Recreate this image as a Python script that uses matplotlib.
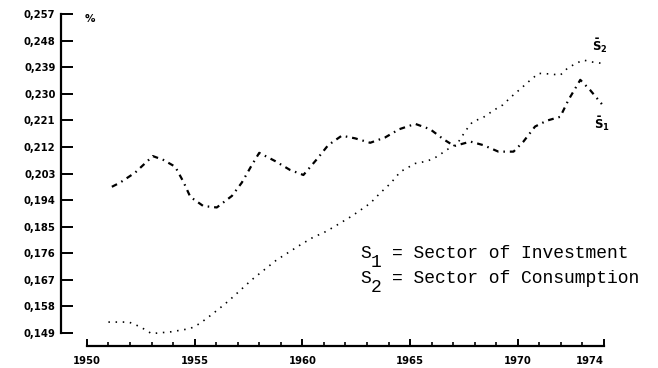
import matplotlib
matplotlib.use("Agg")
import matplotlib.pyplot as plt
from matplotlib.transforms import ScaledTranslation

# share of the two sectors, read year by year (fractional years along the curves)
s1_years = [1951.16, 1951.54, 1952.24, 1953.06, 1953.55, 1954.10, 1954.48, 1954.80,
            1955.40, 1956.03, 1956.73, 1957.19, 1957.66, 1958.00, 1958.74, 1959.43,
            1960.05, 1960.67, 1961.20, 1961.83, 1962.45, 1963.15, 1963.84, 1964.50,
            1965.24, 1965.93, 1966.55, 1967.05, 1967.80, 1968.40, 1969.10, 1969.80,
            1970.26, 1970.80, 1971.35, 1971.97, 1972.35, 1972.90, 1973.35, 1973.90]
s1_values = [0.1985, 0.1999, 0.2033, 0.2089, 0.2076, 0.2053, 0.2002, 0.1951,
             0.1920, 0.1915, 0.1954, 0.1999, 0.2059, 0.2100, 0.2072, 0.2042,
             0.2025, 0.2078, 0.2126, 0.2158, 0.2149, 0.2134, 0.2152, 0.2180,
             0.2198, 0.2180, 0.2146, 0.2123, 0.2138, 0.2126, 0.2104, 0.2104,
             0.2138, 0.2189, 0.2209, 0.2222, 0.2279, 0.2347, 0.2313, 0.2265]

s2_years = [1951.00, 1951.95, 1952.48, 1953.00, 1953.90, 1954.80, 1955.24, 1955.77,
            1956.20, 1956.60, 1957.65, 1958.80, 1959.90, 1960.50, 1961.00, 1961.44,
            1962.30, 1963.15, 1963.60, 1964.10, 1964.55, 1965.24, 1965.80, 1966.25,
            1966.70, 1967.20, 1967.60, 1967.90, 1968.40, 1968.90, 1969.30, 1969.70,
            1970.10, 1970.50, 1970.96, 1971.50, 1971.97, 1972.30, 1972.70, 1973.05,
            1973.40, 1973.90]
s2_values = [0.1527, 0.1527, 0.1511, 0.1488, 0.1494, 0.1505, 0.1522, 0.1551,
             0.1576, 0.1600, 0.1670, 0.1737, 0.1788, 0.1814, 0.1830, 0.1848,
             0.1886, 0.1929, 0.1963, 0.1997, 0.2036, 0.2064, 0.2072, 0.2087,
             0.2110, 0.2132, 0.2177, 0.2205, 0.2220, 0.2245, 0.2262, 0.2290,
             0.2315, 0.2341, 0.2369, 0.2367, 0.2363, 0.2386, 0.2403, 0.2414,
             0.2408, 0.2403]

y_ticks = [0.149, 0.158, 0.167, 0.176, 0.185, 0.194, 0.203,
           0.212, 0.221, 0.230, 0.239, 0.248, 0.257]
x_ticks = [1950, 1955, 1960, 1965, 1970, 1974]
years = list(range(1950, 1975))

fig = plt.figure(figsize=(6.58, 3.68), dpi=100)
ax = fig.add_axes([61 / 658, 22 / 368, 543 / 658, 332 / 368])

ax.plot(s1_years, s1_values, color="black", lw=1.6,
        linestyle=(0, (2.6, 2.2, 0.7, 2.2)))
ax.plot(s2_years, s2_values, color="black", lw=1.2,
        linestyle=(0, (0.9, 3.4)))

ax.set_xlim(1948.80, 1974)
ax.set_ylim(0.1446, 0.257)

# detached axes: y bracket from 0.149 to 0.257, x line from 1950 to 1974
for side in ["top", "right"]:
    ax.spines[side].set_visible(False)
ax.spines["left"].set_bounds(0.149, 0.257)
ax.spines["bottom"].set_bounds(1950, 1974)
ax.spines["left"].set_linewidth(1.6)
ax.spines["bottom"].set_linewidth(1.6)

ax.set_yticks(y_ticks)
ax.set_yticklabels([("%.3f" % v).replace(".", ",") for v in y_ticks])
ax.set_xticks(x_ticks)
ax.set_xticks(years, minor=True)
ax.set_xticklabels([str(y) for y in x_ticks])
ax.get_xticklabels()[-1].set_horizontalalignment("right")

ax.tick_params(axis="y", direction="in", length=8.5, width=1.4, pad=4.0,
               labelsize=7.2)
ax.tick_params(axis="x", which="major", direction="in", length=5, width=1.4,
               pad=7.0, labelsize=7.2)
ax.tick_params(axis="x", which="minor", direction="in", length=2.8, width=1.2)
for lab in ax.get_xticklabels() + ax.get_yticklabels():
    lab.set_fontweight("bold")

ax.text(0.0435, 1.0, "%", transform=ax.transAxes, fontsize=7.5,
        fontweight="bold", va="top", ha="left")

# end labels of the two curves
ax.annotate(r"$\mathbf{\bar{S}_2}$", (s2_years[-1], s2_values[-1]),
            xytext=(-7, 6), textcoords="offset points", fontsize=8.5,
            ha="left", va="bottom")
ax.annotate(r"$\mathbf{\bar{S}_1}$", (s1_years[-1], s1_values[-1]),
            xytext=(-6, -8), textcoords="offset points", fontsize=8.5,
            ha="left", va="top")

# key, typewriter style with full-size subscripts
key_size = 13
col = 0.6 * key_size / 72.0  # one monospace column, in inches
mono = dict(family="Liberation Mono", fontsize=key_size, color="black",
            va="baseline")
key_x = 360 / 658
for row_y, sub, name in [(0.299, "1", "Sector of Investment"),
                         (0.231, "2", "Sector of Consumption")]:
    base = fig.transFigure
    fig.text(key_x, row_y, "S", **mono)
    fig.text(key_x, row_y, sub, transform=base + ScaledTranslation(
        col, -6.5 / 72.0, fig.dpi_scale_trans), **mono)
    fig.text(key_x, row_y, "= " + name, transform=base + ScaledTranslation(
        3 * col, 0, fig.dpi_scale_trans), **mono)

fig.savefig("out.png", dpi=100)
